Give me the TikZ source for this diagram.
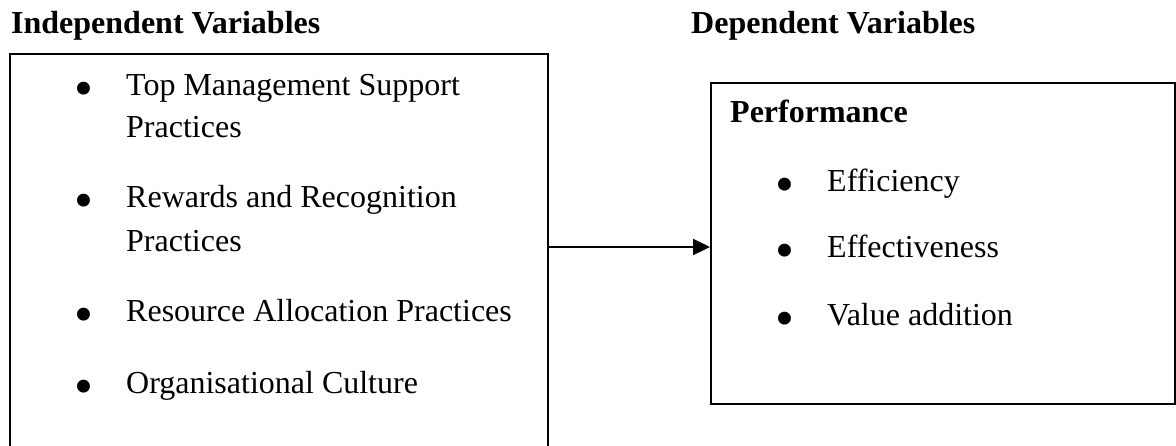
\documentclass[tikz,border=0pt]{standalone}
\usepackage{fontspec}
\setmainfont{Liberation Serif}
\usetikzlibrary{arrows.meta}

\tikzset{
  varbox/.style={draw,black,line width=2pt,inner sep=0pt,anchor=north west},
  label/.style={anchor=base west,inner sep=0pt,font=\fontsize{32}{42}\selectfont},
  title/.style={label,font=\fontsize{32}{42}\selectfont\bfseries},
  bullet/.style={anchor=base,inner sep=0pt,font=\fontsize{54}{54}\selectfont},
  flow/.style={line width=2.4pt,-{Triangle[length=17pt,width=16pt]}}
}

\begin{document}
\begin{tikzpicture}[x=1pt,y=-1pt]
\useasboundingbox (0,0) rectangle (1176,446);

% headings
\node[title](indeptitle) at (11,34){Independent Variables};
\node[title](deptitle) at (691,34){Dependent Variables};

% boxes
\node[varbox,minimum width=538pt,minimum height=420pt](indep) at (9,53){};
\node[varbox,minimum width=464pt,minimum height=321pt](dep) at (710,82){};

% independent variables
\node[bullet](b1) at (84,107){\textbullet};
\node[label](i1) at (126,96){Top Management Support};
\node[label](i1b) at (126,138){Practices};
\node[bullet](b2) at (84,219){\textbullet};
\node[label](i2) at (126,208){Rewards and Recognition};
\node[label](i2b) at (126,252){Practices};
\node[bullet](b3) at (84,333){\textbullet};
\node[label](i3) at (126,322){Resource Allocation Practices};
\node[bullet](b4) at (84,404){\textbullet};
\node[label](i4) at (126,393){Organisational Culture};

% dependent variables
\node[title](perf) at (730,123){Performance};
\node[bullet](c1) at (785,203){\textbullet};
\node[label](d1) at (827,192){Efficiency};
\node[bullet](c2) at (785,269){\textbullet};
\node[label](d2) at (827,258){Effectiveness};
\node[bullet](c3) at (785,337){\textbullet};
\node[label](d3) at (827,326){Value addition};

\coordinate (mid) at (0,247);
\draw[flow](indep.east |- mid) -- (dep.west |- mid);

\end{tikzpicture}
\end{document}
